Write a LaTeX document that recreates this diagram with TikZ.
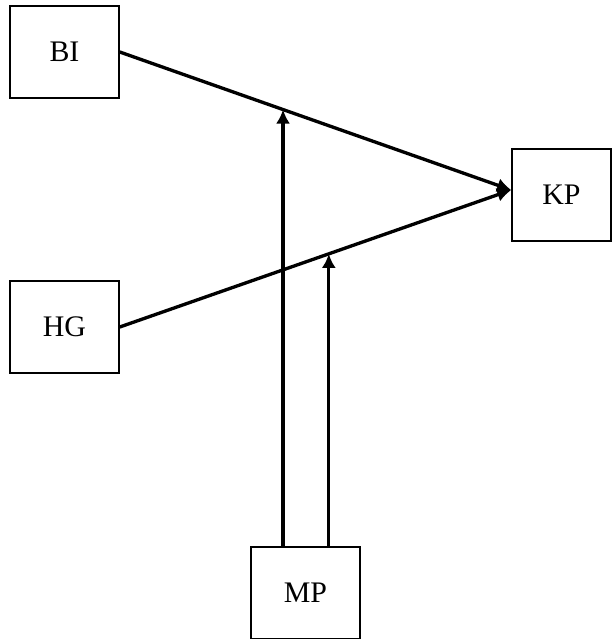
\documentclass[tikz,border=0pt]{standalone}
\usepackage{fontspec}
\setmainfont{Liberation Serif}
\usetikzlibrary{calc,arrows.meta}

\begin{document}
\begin{tikzpicture}[x=0.02cm, y=-0.02cm,
  every node/.style={rectangle,draw,line width=0.9pt,minimum width=2.18cm,minimum height=1.84cm,font=\fontsize{17}{19}\selectfont},
  link/.style={line width=1.9pt,-{Latex[length=8pt,width=8pt]}}]
  \useasboundingbox (0,0) rectangle (612,639);
  \node (BI) at (64.5,52) {BI};
  \node [minimum width=1.98cm](KP) at (561.5,195) {KP};
  \node (HG) at (64.5,327) {HG};
  \node (MP) at (305.5,593) {MP};
  \coordinate (tip) at ($(KP.west)+(0,-5)$);
  \draw [link] (BI.east) -- (tip);
  \draw [link] (HG.east) -- (tip);
  \coordinate (onBI) at ($(BI.east)!0.417!(tip)$);
  \coordinate (onHG) at ($(HG.east)!0.534!(tip)$);
  \draw [link] (onBI |- MP.north) -- (onBI);
  \draw [link] (onHG |- MP.north) -- (onHG);
\end{tikzpicture}
\end{document}
